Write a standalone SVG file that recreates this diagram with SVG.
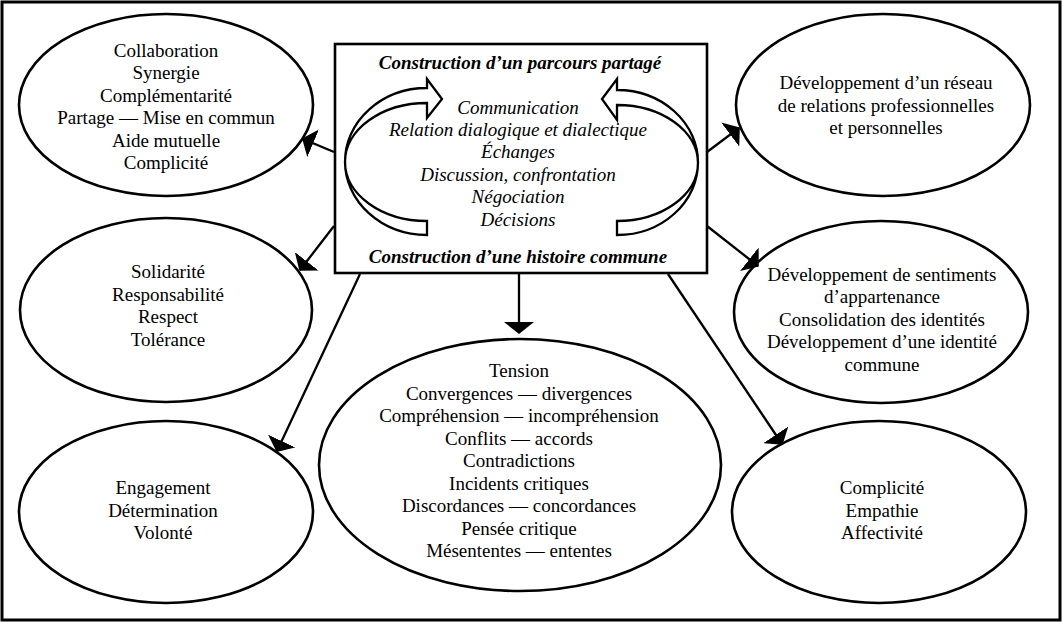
<svg xmlns="http://www.w3.org/2000/svg" width="1063" height="623" viewBox="0 0 1063 623">
<style>
text{font-family:"Liberation Serif","Times New Roman",serif;font-size:19px;fill:#000;text-anchor:middle}
.it{font-style:italic}
.bi{font-style:italic;font-weight:bold}
.node{fill:#fff;stroke:#000;stroke-width:2.6}
.conn line{stroke:#000;stroke-width:2.3}
.band{fill:#fff;stroke:#000;stroke-width:2.3;stroke-linejoin:miter}
</style>
<defs>
<marker id="ah" markerUnits="userSpaceOnUse" viewBox="0 0 12 30" refX="11" refY="15" markerWidth="12" markerHeight="30" orient="auto">
<path d="M0,0 L12,15 L0,30 Z" fill="#000"/>
</marker>
</defs>
<rect x="0" y="0" width="1063" height="623" fill="#fff"/>
<rect x="2" y="2" width="1058" height="618" fill="none" stroke="#000" stroke-width="3"/>

<g id="center">
<rect x="335" y="44" width="372" height="229" fill="#fff" stroke="#000" stroke-width="2.6"/>
<path class="band" d="M427,103 L427,118 L442,99 L427,79 L427,88 A82 73.5 0 0 0 427,235 L427,221 A82 59 0 0 1 427,103 Z"/>
<path class="band" d="M617,105 L617,120 L602,99 L617,79 L617,90 A81 72.5 0 0 1 617,235 L617,221 A81 58 0 0 0 617,105 Z"/>
<text class="bi" x="520" y="69">Construction d’un parcours partagé</text>
<text class="it" x="518" y="114">Communication</text>
<text class="it" x="518" y="136">Relation dialogique et dialectique</text>
<text class="it" x="518" y="158">Échanges</text>
<text class="it" x="518" y="181">Discussion, confrontation</text>
<text class="it" x="518" y="203">Négociation</text>
<text class="it" x="518" y="226">Décisions</text>
<text class="bi" x="518" y="263">Construction d’une histoire commune</text>
</g>

<g id="n-collaboration">
<ellipse class="node" cx="166" cy="105" rx="147" ry="91"/>
<text x="166" y="57">Collaboration</text>
<text x="166" y="79">Synergie</text>
<text x="166" y="102">Complémentarité</text>
<text x="166" y="124">Partage — Mise en commun</text>
<text x="166" y="147">Aide mutuelle</text>
<text x="166" y="169">Complicité</text>
</g>

<g id="n-solidarite">
<ellipse class="node" cx="166" cy="310" rx="146" ry="92"/>
<text x="168" y="278">Solidarité</text>
<text x="168" y="301">Responsabilité</text>
<text x="168" y="323">Respect</text>
<text x="168" y="346">Tolérance</text>
</g>

<g id="n-engagement">
<ellipse class="node" cx="166" cy="512" rx="147" ry="91"/>
<text x="163" y="494">Engagement</text>
<text x="163" y="517">Détermination</text>
<text x="163" y="539">Volonté</text>
</g>

<g id="n-tension">
<ellipse class="node" cx="520" cy="465" rx="201" ry="126"/>
<text x="519" y="377">Tension</text>
<text x="519" y="400">Convergences — divergences</text>
<text x="519" y="422">Compréhension — incompréhension</text>
<text x="519" y="445">Conflits — accords</text>
<text x="519" y="467">Contradictions</text>
<text x="519" y="490">Incidents critiques</text>
<text x="519" y="512">Discordances — concordances</text>
<text x="519" y="535">Pensée critique</text>
<text x="519" y="557">Mésententes — ententes</text>
</g>

<g id="n-reseau">
<ellipse class="node" cx="883" cy="105" rx="147" ry="91"/>
<text x="886" y="89">Développement d’un réseau</text>
<text x="886" y="112">de relations professionnelles</text>
<text x="886" y="134">et personnelles</text>
</g>

<g id="n-appartenance">
<ellipse class="node" cx="881" cy="312" rx="147" ry="91"/>
<text x="882" y="281">Développement de sentiments</text>
<text x="882" y="303">d’appartenance</text>
<text x="882" y="326">Consolidation des identités</text>
<text x="882" y="348">Développement d’une identité</text>
<text x="882" y="371">commune</text>
</g>

<g id="n-complicite">
<ellipse class="node" cx="879" cy="512" rx="147" ry="91"/>
<text x="882" y="494">Complicité</text>
<text x="882" y="517">Empathie</text>
<text x="882" y="539">Affectivité</text>
</g>

<g id="connectors" class="conn">
<line x1="334" y1="152" x2="303" y2="139" marker-end="url(#ah)"/>
<line x1="707" y1="152" x2="739" y2="128" marker-end="url(#ah)"/>
<line x1="334" y1="226" x2="300" y2="270" marker-end="url(#ah)"/>
<line x1="707" y1="226" x2="758" y2="266" marker-end="url(#ah)"/>
<line x1="360" y1="274" x2="277" y2="451" marker-end="url(#ah)"/>
<line x1="668" y1="274" x2="782" y2="444" marker-end="url(#ah)"/>
<line x1="519" y1="274" x2="519" y2="333" marker-end="url(#ah)"/>
</g>
</svg>
